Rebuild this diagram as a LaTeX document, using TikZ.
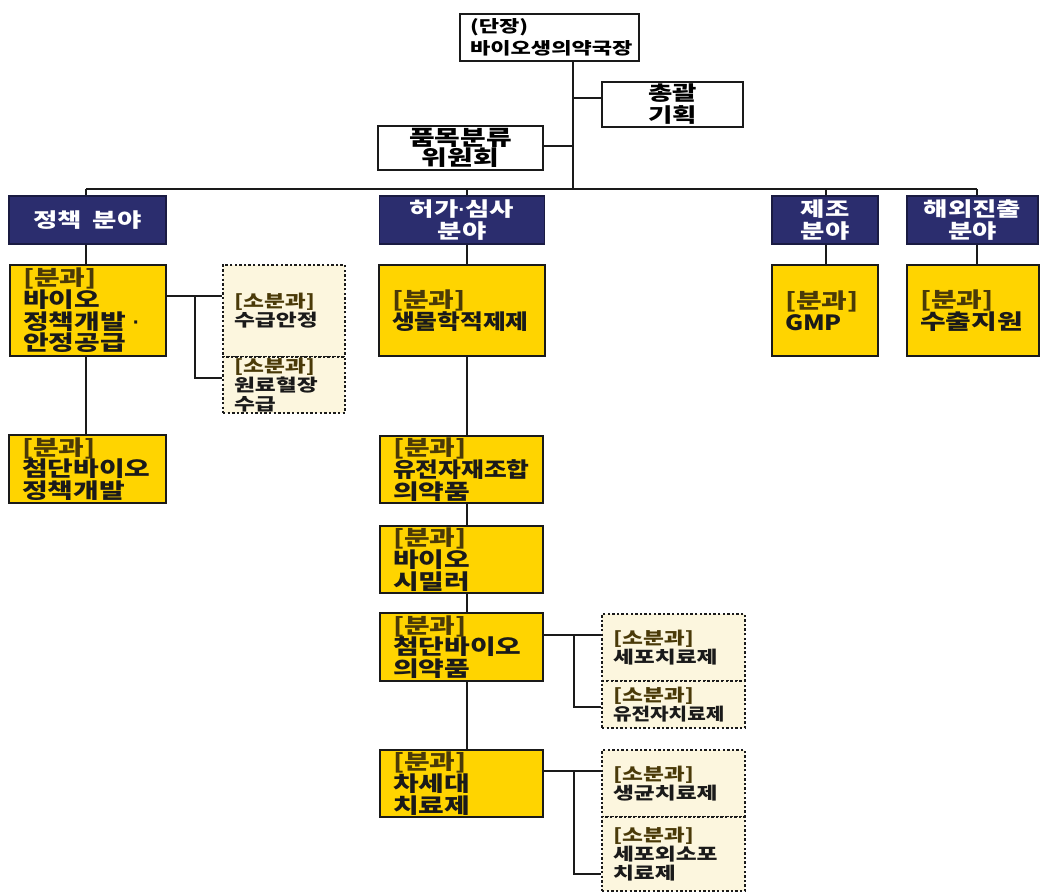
\documentclass[tikz,border=0pt]{standalone}
\usepackage{fontspec}
\newfontfamily\kr[FakeStretch=1.33]{Noto Sans CJK KR}
\newfontfamily\krn[FakeStretch=1.18]{Noto Sans CJK KR}
\newfontfamily\latf{Liberation Sans}
\definecolor{navy}{HTML}{2B2D6E}
\definecolor{gold}{HTML}{FFD400}
\definecolor{cream}{HTML}{FCF6DE}
\definecolor{ink}{HTML}{1A1A1A}
\definecolor{bkbrown}{HTML}{4A3A08}
\newcommand\myBK{{\color{bkbrown}[분과]}}
\newcommand\mySBK{{\color{bkbrown}[소분과]}}
\newcommand\mydot{{\latf\bfseries·}}
\begin{document}
\begin{tikzpicture}[x=1pt,y=-1pt,
 base/.style={draw=ink, line width=1.6pt, inner ysep=0pt},
 topbox/.style={base, fill=white, align=left, inner xsep=10pt, font=\kr\bfseries\fontsize{16.6}{22}\selectfont},
 whitebox/.style={base, fill=white, align=center},
 navybox/.style={base, fill=navy, draw=navy!60!black, text=white, align=center, minimum height=48pt, font=\kr\bfseries\fontsize{19.9}{22}\selectfont},
 ybox/.style={base, fill=gold, text=ink, align=left, inner xsep=13pt, font=\kr\bfseries\fontsize{21}{21.7}\selectfont},
 dbox/.style={draw=ink, line width=1.4pt, dash pattern=on 2.4pt off 2.2pt, fill=cream, text=ink, align=left, inner xsep=11pt, inner ysep=0pt, font=\kr\bfseries\fontsize{17.1}{19}\selectfont},
 link/.style={draw=ink, line width=1.6pt}
]
\useasboundingbox (0,0) rectangle (1040,892);
\fill[white] (0,0) rectangle (1040,892);

% top
\node[topbox, minimum width=179pt, minimum height=47pt, text width=159pt] (head) at (549.5,37.5) {(단장)\\바이오생의약국장};
\node[whitebox, minimum width=141pt, minimum height=45pt, font=\kr\bfseries\fontsize{19.9}{22}\selectfont] (plan) at (672.5,104.5) {총괄\\기획};
\node[whitebox, minimum width=165pt, minimum height=44pt, font=\kr\bfseries\fontsize{21}{20.5}\selectfont] (cmte) at (460.5,148) {품목분류\\위원회};

\coordinate (bus) at (573,189);
\coordinate (j1) at (573,98);
\coordinate (j2) at (573,146);
\coordinate (busL) at (86,189);
\coordinate (bus2) at (467,189);
\coordinate (bus3) at (826,189);
\coordinate (busR) at (977,189);

% field boxes
\node[navybox, minimum width=157pt] (f1) at (87.5,220) {정책\hspace{0.55em}분야};
\node[navybox, minimum width=165pt] (f2) at (462,220) {허가\mydot 심사\\분야};
\node[navybox, minimum width=106pt] (f3) at (825,220) {제조\\분야};
\node[navybox, minimum width=131pt] (f4) at (972.5,220) {해외진출\\분야};

% yellow row 1
\node[ybox, minimum width=156pt, minimum height=91pt, text width=130pt] (p1) at (88,310.5) {\myBK\\바이오\\정책개발 \mydot\\안정공급};
\node[ybox, minimum width=166pt, minimum height=91pt, text width=140pt] (p2) at (462,310.5) {\myBK\\{\krn 생물학적제제}};
\node[ybox, minimum width=106pt, minimum height=91pt, text width=80pt] (p3) at (825,310.5) {\myBK\\{\krn GMP}};
\node[ybox, minimum width=132pt, minimum height=91pt, text width=106pt] (p4) at (973,310.5) {\myBK\\수출지원};

% left column
\node[ybox, minimum width=157pt, minimum height=68pt, text width=131pt] (p5) at (87.5,469) {\myBK\\첨단바이오\\정책개발};
\node[dbox, minimum width=122pt, minimum height=92pt, text width=100pt] (d1) at (284,311) {\mySBK\\수급안정};
\node[dbox, minimum width=122pt, minimum height=56pt, text width=100pt] (d2) at (284,385) {\mySBK\\원료혈장\\수급};

% middle column
\node[ybox, minimum width=163pt, minimum height=67pt, text width=137pt] (p6) at (461.5,469.5) {\myBK\\{\krn 유전자재조합}\\의약품};
\node[ybox, minimum width=163pt, minimum height=67pt, text width=137pt] (p7) at (461.5,559.5) {\myBK\\바이오\\시밀러};
\node[ybox, minimum width=163pt, minimum height=68pt, text width=137pt] (p8) at (461.5,647) {\myBK\\첨단바이오\\의약품};
\node[ybox, minimum width=163pt, minimum height=67pt, text width=137pt] (p9) at (461.5,783.5) {\myBK\\차세대\\치료제};

% right dotted column
\node[dbox, minimum width=143pt, minimum height=67pt, text width=121pt] (d3) at (673.5,647.5) {\mySBK\\세포치료제};
\node[dbox, minimum width=143pt, minimum height=47pt, text width=121pt] (d4) at (673.5,704.5) {\mySBK\\{\krn 유전자치료제}};
\node[dbox, minimum width=143pt, minimum height=67pt, text width=121pt] (d5) at (673.5,783.5) {\mySBK\\생균치료제};
\node[dbox, minimum width=143pt, minimum height=74pt, text width=121pt] (d6) at (673.5,854) {\mySBK\\세포외소포\\치료제};

% connectors top
\draw[link] (head.south -| bus) -- (bus);
\draw[link] (j1) -- (j1 -| plan.west);
\draw[link] (j2) -- (j2 -| cmte.east);
\draw[link] (busL) -- (busR);
\draw[link] (busL) -- (busL |- f1.north);
\draw[link] (bus2) -- (bus2 |- f2.north);
\draw[link] (bus3) -- (bus3 |- f3.north);
\draw[link] (busR) -- (busR |- f4.north);

% field to first sections
\draw[link] (f1.south -| busL) -- (p1.north -| busL);
\draw[link] (f2.south -| bus2) -- (p2.north -| bus2);
\draw[link] (f3.south -| bus3) -- (p3.north -| bus3);
\draw[link] (f4.south -| busR) -- (p4.north -| busR);

% left column links
\draw[link] (p1.south -| busL) -- (p5.north -| busL);
\coordinate (k1) at (195,296);
\coordinate (k2) at (195,378);
\draw[link] (p1.east |- k1) -- (d1.west |- k1);
\draw[link] (k1) -- (k2) -- (k2 -| d2.west);

% middle trunk
\draw[link] (p2.south -| bus2) -- (p6.north -| bus2);
\draw[link] (p6.south -| bus2) -- (p7.north -| bus2);
\draw[link] (p7.south -| bus2) -- (p8.north -| bus2);
\draw[link] (p8.south -| bus2) -- (p9.north -| bus2);

% right sub links
\coordinate (m1) at (574,635);
\coordinate (m2) at (574,707);
\draw[link] (p8.east |- m1) -- (d3.west |- m1);
\draw[link] (m1) -- (m2) -- (m2 -| d4.west);
\coordinate (n1) at (574,771);
\coordinate (n2) at (574,874);
\draw[link] (p9.east |- n1) -- (d5.west |- n1);
\draw[link] (n1) -- (n2) -- (n2 -| d6.west);
\end{tikzpicture}
\end{document}
